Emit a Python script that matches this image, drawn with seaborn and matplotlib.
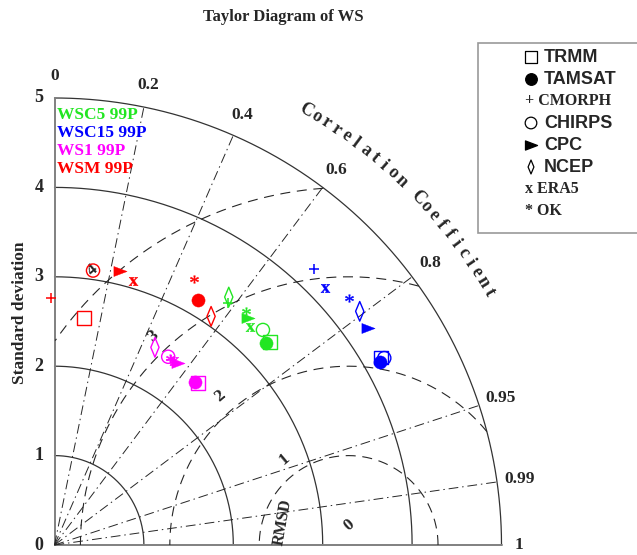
import numpy as np
import pandas as pd
import matplotlib
matplotlib.use('Agg')
import matplotlib.pyplot as plt
from matplotlib.path import Path
from matplotlib.patches import Rectangle
import seaborn as sns

# --- DATA ---
products = ['TRMM', 'TAMSAT', 'CMORPH', 'CHIRPS', 'CPC', 'NCEP', 'ERA5', 'OK']
groups = ['WSC5 99P', 'WSC15 99P', 'WS1 99P', 'WSM 99P']
group_colors = ['#22e622', '#0000ff', '#ff00ff', '#ff0000']

std_wsc5 = [3.31, 3.27, 3.33, 3.35, 3.34, 3.39, 3.28, 3.38]
cor_wsc5 = [0.728, 0.723, 0.583, 0.696, 0.649, 0.575, 0.668, 0.633]
std_wsc15 = [4.21, 4.18, 4.24, 4.24, 4.27, 4.30, 4.17, 4.30]
cor_wsc15 = [0.867, 0.872, 0.685, 0.870, 0.822, 0.794, 0.725, 0.766]
std_ws1 = [2.42, 2.41, 2.45, 2.46, 2.46, 2.48, 2.45, 2.46]
cor_ws1 = [0.663, 0.653, 0.533, 0.517, 0.561, 0.453, 0.545, 0.525]
std_wsm = [2.56, 3.18, 2.76, 3.10, 3.15, 3.10, 3.08, 3.36]
cor_wsm = [0.129, 0.505, -0.014, 0.139, 0.233, 0.565, 0.285, 0.464]

ref_std = 3.29
sd_ticks = [0, 1, 2, 3, 4, 5]
corr_ticks = [0, 0.2, 0.4, 0.6, 0.8, 0.95, 0.99, 1]
corr_rays = [0.2, 0.4, 0.6, 0.8, 0.95, 0.99]
rmsd_levels = [0, 1, 2, 3, 4]

sns.set_style('white')
plt.rcParams['font.family'] = ['Liberation Serif', 'DejaVu Serif']
plt.rcParams['mathtext.fontset'] = 'custom'
plt.rcParams['mathtext.rm'] = 'Liberation Serif'
plt.rcParams['mathtext.bf'] = 'Liberation Serif:bold'

# custom marker shapes
tri = Path([(-0.5, 0.38), (0.5, 0.0), (-0.5, -0.38), (-0.5, 0.38)],
           [Path.MOVETO, Path.LINETO, Path.LINETO, Path.CLOSEPOLY])
dia = Path([(0, 1), (0.42, 0), (0, -1), (-0.42, 0), (0, 1)],
           [Path.MOVETO, Path.LINETO, Path.LINETO, Path.LINETO, Path.CLOSEPOLY])

# product -> (marker, size, filled)
marker_spec = {
    'TRMM': ('s', 95, False),
    'TAMSAT': ('o', 90, True),
    'CMORPH': ('+', 55, None),
    'CHIRPS': ('o', 90, False),
    'CPC': (tri, 90, True),
    'NCEP': (dia, 200, False),
    'ERA5': (r'$\mathbf{x}$', 42, True),
    'OK': (r'$*$', 36, True),
}

fig = plt.figure(figsize=(6.37, 5.55), dpi=100)
ax = fig.add_axes([0, 0, 1, 1])
PX = 89.4
ax.set_xlim(-54.5 / PX, (637 - 54.5) / PX)
ax.set_ylim(-10 / PX, 545 / PX)
ax.axis('off')

# standard deviation arcs
theta = np.linspace(0, np.pi / 2, 300)
for r in sd_ticks[1:]:
    ax.plot(r * np.cos(theta), r * np.sin(theta), color='0.2', lw=0.9, zorder=1)
ax.plot([0, 0], [0, 5], color='0.5', lw=1.4, zorder=1)
ax.plot([0, 5], [0, 0], color='0.5', lw=1.4, zorder=1)

# correlation rays
for c in corr_rays:
    a = np.arccos(c)
    ax.plot([0, 5 * np.cos(a)], [0, 5 * np.sin(a)], color='0.15', lw=0.7,
            ls=(0, (10, 4, 1.5, 4)), zorder=1)

# RMSD arcs around the reference point
phi = np.linspace(0, np.pi, 600)
for k in rmsd_levels[1:]:
    x = ref_std + k * np.cos(phi)
    y = k * np.sin(phi)
    keep = (x ** 2 + y ** 2 <= 25) & (x >= 0)
    ax.plot(np.where(keep, x, np.nan), np.where(keep, y, np.nan),
            color='0.15', lw=0.8, ls=(0, (9, 6)), zorder=1)

# RMSD labels
lab_ang = [90, 127, 131, 133, 133]
for k, ang in zip(rmsd_levels, lab_ang):
    rr = k + 0.2 if k > 0 else 0.22
    a = np.radians(ang)
    ax.text(ref_std + rr * np.cos(a), rr * np.sin(a), str(k), fontsize=12.5,
            fontweight='bold', ha='center', va='center', rotation=40, zorder=2)
ax.text(ref_std - 0.74, 0.26, 'RMSD', fontsize=11.5, fontweight='bold',
        ha='center', va='center', rotation=80, zorder=2)

# SD tick labels
for r in sd_ticks:
    ax.text(-0.175, r, str(r), fontsize=13, fontweight='bold',
            ha='center', va='center')
ax.text(-0.39, 2.6, 'Standard deviation', fontsize=12.5, fontweight='bold',
        ha='center', va='center', rotation=90)

# correlation tick labels
for c in corr_ticks:
    a = np.arccos(c)
    rr = 5.25 if c < 1 else 5.2
    ax.text(rr * np.cos(a), rr * np.sin(a), f'{c:g}', fontsize=12.5,
            fontweight='bold', ha='center', va='center')

# curved axis title
title_txt = 'Correlation Coefficient'
for i, ch in enumerate(title_txt):
    if ch == ' ':
        continue
    ang = 59.9 - 1.35 * i
    a = np.radians(ang)
    ax.text(5.62 * np.cos(a), 5.62 * np.sin(a), ch, fontsize=13,
            fontweight='bold', ha='center', va='center', rotation=ang - 90)

# points
all_std = [std_wsc5, std_wsc15, std_ws1, std_wsm]
all_cor = [cor_wsc5, cor_wsc15, cor_ws1, cor_wsm]
for stds, cors, col in zip(all_std, all_cor, group_colors):
    df = pd.DataFrame({'product': products, 'std': stds, 'corr': cors})
    df['x'] = df['std'] * df['corr']
    df['y'] = df['std'] * np.sqrt(1 - df['corr'] ** 2)
    for prod, (mk, s, filled) in marker_spec.items():
        sub = df[df['product'] == prod]
        if filled is None:
            sns.scatterplot(data=sub, x='x', y='y', marker=mk, s=s, color=col,
                            linewidth=1.1, ax=ax, zorder=3, legend=False)
        elif filled:
            sns.scatterplot(data=sub, x='x', y='y', marker=mk, s=s, color=col,
                            edgecolor=col, linewidth=0.3, ax=ax, zorder=3,
                            legend=False)
        else:
            sns.scatterplot(data=sub, x='x', y='y', marker=mk, s=s, color=col,
                            facecolor='none', edgecolor=col, linewidth=1.0,
                            ax=ax, zorder=3, legend=False)
ax.set_xlim(-54.5 / PX, (637 - 54.5) / PX)
ax.set_ylim(-10 / PX, 545 / PX)
ax.axis('off')

# group labels
for i, (g, col) in enumerate(zip(groups, group_colors)):
    ax.text(57 / 637, 1 - (115 + 18 * i) / 555, g, color=col, fontsize=12.5,
            fontweight='bold', ha='left', va='center', transform=ax.transAxes)

# title
ax.text(283 / 637, 1 - 17 / 555, 'Taylor Diagram of WS', fontsize=12,
        fontweight='bold', ha='center', va='center', transform=ax.transAxes)

# legend box
ax.add_patch(Rectangle((478 / 637, 1 - 233 / 555), 0.3, 190 / 555,
                       transform=ax.transAxes, facecolor='white',
                       edgecolor='0.6', lw=1.2, clip_on=False, zorder=4))
sans_items = {'TRMM': ('s', 65, False), 'TAMSAT': ('o', 70, True),
              'CHIRPS': ('o', 70, False), 'CPC': (tri, 75, True),
              'NCEP': (dia, 100, False)}
text_items = {'CMORPH': '+', 'ERA5': 'x', 'OK': '*'}
for i, prod in enumerate(products):
    yy = 1 - (57 + 22 * i) / 555
    if prod in sans_items:
        mk, s, filled = sans_items[prod]
        ax.scatter([531 / 637], [yy], marker=mk, s=s,
                   facecolor='black' if filled else 'none', edgecolor='black',
                   lw=0.9, transform=ax.transAxes, zorder=5, clip_on=False)
        ax.text(544 / 637, yy, prod, fontsize=13, fontweight='bold',
                family='Liberation Sans', ha='left', va='center',
                transform=ax.transAxes, zorder=5)
    else:
        ax.text(525 / 637, yy, f'{text_items[prod]} {prod}', fontsize=11.5,
                fontweight='bold', ha='left', va='center',
                transform=ax.transAxes, zorder=5)

fig.savefig('out.png', dpi=100)
